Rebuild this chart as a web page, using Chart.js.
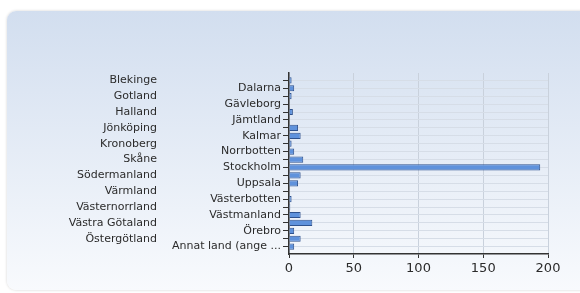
<!DOCTYPE html>
<html>
<head>
<meta charset="utf-8">
<script src="https://cdn.jsdelivr.net/npm/chart.js@4.4.0/dist/chart.umd.min.js"></script>
<style>
  body { margin: 0; background: #fff; }
  #wrap { position: relative; width: 580px; height: 293px; overflow: hidden; }
  #panel {
    position: absolute; left: 7px; top: 11px; width: 600px; height: 279px;
    border-radius: 9px;
    background: linear-gradient(#d2deef, #f8fafd);
    box-shadow: 0 0 3px rgba(0,0,0,0.18);
  }
  #myChart { position: absolute; left: 0; top: 0; }
</style>
</head>
<body>
<div id="wrap">
  <div id="panel"></div>
  <canvas id="myChart" width="580" height="293"></canvas>
</div>
<script>
// regions (categories)
var regions = [
  "Blekinge", "Dalarna", "Gotland", "Gävleborg", "Halland", "Jämtland",
  "Jönköping", "Kalmar", "Kronoberg", "Norrbotten", "Skåne", "Stockholm",
  "Södermanland", "Uppsala", "Värmland", "Västerbotten", "Västernorrland",
  "Västmanland", "Västra Götaland", "Örebro", "Östergötland", "Annat land (ange ..."
];
// answers per region
var counts = [2, 4, 2, 0, 3, 0, 7, 9, 2, 4, 11, 194, 9, 7, 0, 2, 1, 9, 18, 4, 9, 4];
// x axis ticks
var xTicks = [0, 50, 100, 150, 200];

var textColor = "#2b2b2b";
var labelFont = { family: "'DejaVu Sans', Verdana, sans-serif", size: 11 };

// leave almost a whole empty slot above the first and below the last region
function widenRange(axis) {
  axis._startValue = -0.93;
  axis._valueRange = regions.length - 1 + 1.86;
}

var ctx = document.getElementById("myChart").getContext("2d");
var myChart = new Chart(ctx, {
  type: "bar",
  data: {
    labels: regions,
    datasets: [
      {
        label: "Antal",
        data: counts,
        backgroundColor: "#5f92dc",
        borderColor: "#2f528e",
        borderWidth: 1,
        barPercentage: 0.78,
        categoryPercentage: 1,
        yAxisID: "y",
      },
    ],
  },
  options: {
    indexAxis: "y",
    responsive: false,
    animation: false,
    layout: { padding: { top: 73, right: 32, left: 0, bottom: 0 } },
    plugins: { legend: { display: false }, tooltip: { enabled: false } },
    scales: {
      x: {
        min: 0,
        max: 200,
        afterBuildTicks: function (axis) {
          axis.ticks = xTicks.map(function (v) { return { value: v }; });
        },
        afterFit: function (axis) { axis.height = 39; },
        grid: { color: "#c9d1dc", tickColor: "#333", tickLength: 4 },
        border: { color: "#333", width: 1.5 },
        ticks: { color: textColor, padding: 3, font: { family: labelFont.family, size: 13 } },
      },
      y: {
        position: "left",
        offset: false,
        afterBuildTicks: widenRange,
        afterFit: function (axis) { axis.width = 117; },
        grid: { offset: false, color: "#d6dde7", tickColor: "#333", tickLength: 6 },
        border: { color: "#333", width: 1.5 },
        ticks: {
          autoSkip: false,
          color: textColor,
          padding: 2,
          font: labelFont,
          callback: function (value, index) {
            return index % 2 == 1 ? regions[index] : "";
          },
        },
      },
      y2: {
        type: "category",
        position: "left",
        offset: false,
        afterBuildTicks: widenRange,
        afterFit: function (axis) { axis.width = 172; },
        grid: { display: false },
        border: { display: false },
        ticks: {
          autoSkip: false,
          color: textColor,
          padding: 7,
          font: labelFont,
          callback: function (value, index) {
            return index % 2 == 0 ? regions[index] : "";
          },
        },
      },
    },
  },
});
</script>
</body>
</html>
